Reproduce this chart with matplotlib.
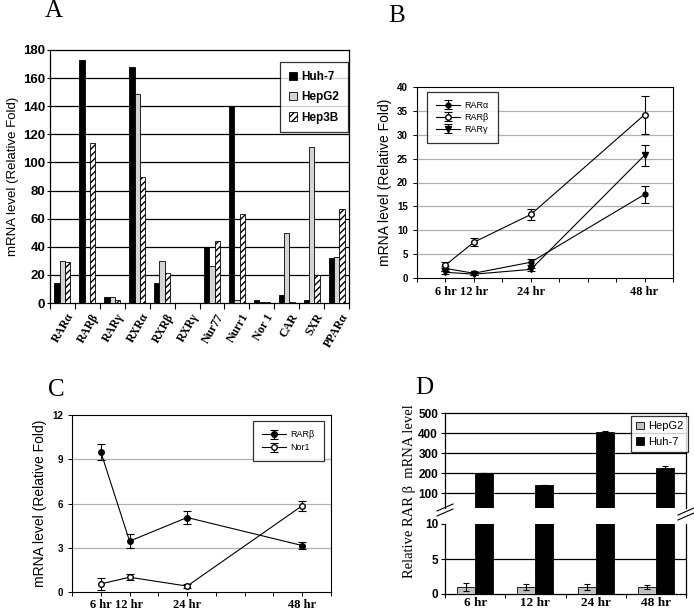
import matplotlib
matplotlib.use("Agg")
import matplotlib.pyplot as plt
import numpy as np
from matplotlib.lines import Line2D

plt.rcParams['font.family'] = ['Liberation Sans', 'DejaVu Sans']

# ---------------- Data ----------------
# Panel A
a_categories = ["RARα", "RARβ", "RARγ", "RXRα", "RXRβ", "RXRγ",
                "Nur77", "Nurr1", "Nor 1", "CAR", "SXR", "PPARα"]
a_huh7 = [14, 173, 4, 168, 14, 0, 40, 140, 2, 6, 2, 32]
a_hepg2 = [30, 0, 4.5, 149, 30, 0, 26, 2, 1, 50, 111, 33]
a_hep3b = [29, 114, 2, 90, 21, 0, 44, 63, 1, 1, 20, 67]
a_yticks = [0, 20, 40, 60, 80, 100, 120, 140, 160, 180]

# Panel B
b_hours = [6, 12, 24, 48]
b_hour_labels = ["6 hr", "12 hr", "24 hr", "48 hr"]
b_rara = [2.0, 1.0, 3.3, 17.5]
b_rara_err = [0.5, 0.3, 0.6, 1.8]
b_rarb = [2.7, 7.5, 13.3, 34.2]
b_rarb_err = [0.6, 0.8, 1.2, 4.0]
b_rarg = [1.2, 0.8, 1.8, 25.7]
b_rarg_err = [0.3, 0.2, 0.3, 2.2]

# Panel C
c_hours = [6, 12, 24, 48]
c_rarb = [9.5, 3.45, 5.05, 3.15]
c_rarb_err = [0.55, 0.45, 0.45, 0.25]
c_nor1 = [0.55, 1.0, 0.4, 5.85]
c_nor1_err = [0.4, 0.2, 0.15, 0.35]

# Panel D
d_labels = ["6 hr", "12 hr", "24 hr", "48 hr"]
d_hepg2 = [1.0, 1.0, 1.0, 1.0]
d_hepg2_err = [0.6, 0.45, 0.45, 0.3]
d_huh7 = [199, 140, 406, 224]
d_huh7_err = [0, 0, 3, 10]

W, H = 694, 611
fig = plt.figure(figsize=(W / 100, H / 100), dpi=100)


def ax_px(left, top, right, bottom):
    return fig.add_axes([left / W, 1 - bottom / H, (right - left) / W, (bottom - top) / H])


serif = 'Liberation Serif'

# ---------------- Panel A ----------------
axA = ax_px(50, 50, 349, 303)
x = np.arange(len(a_categories))
bw = 0.215
axA.bar(x - bw, a_huh7, bw, color='black', edgecolor='black', linewidth=0.6, label='Huh-7', zorder=3)
axA.bar(x, a_hepg2, bw, color='#d4d4d4', edgecolor='black', linewidth=0.6, label='HepG2', zorder=3)
axA.bar(x + bw, a_hep3b, bw, color='white', edgecolor='black', linewidth=0.6, hatch='/////',
        label='Hep3B', zorder=3)
axA.set_xlim(-0.5, len(a_categories) - 0.5)
axA.set_ylim(0, 180)
axA.set_yticks(a_yticks)
axA.set_yticklabels([str(v) for v in a_yticks], fontsize=9.5, fontweight='bold')
for v in a_yticks[1:-1]:
    axA.axhline(v, color='black', linewidth=0.9, zorder=1)
axA.set_xticks(np.arange(len(a_categories) + 1) - 0.5, minor=False)
axA.set_xticklabels([])
axA.tick_params(axis='x', length=4, direction='out')
axA.tick_params(axis='y', length=2, direction='out', pad=1.5)
for i, lab in enumerate(a_categories):
    axA.text(i + 0.15, -6, lab, rotation=60, ha='right', va='top', rotation_mode='anchor',
             fontsize=8.5, family=serif, fontweight='bold')
fig.text(13 / W, 1 - 176 / H, "mRNA level (Relative Fold)", rotation=90, fontsize=9.5,
         ha='center', va='center')
for s in axA.spines.values():
    s.set_linewidth(0.9)
legA = axA.legend(loc='upper right', bbox_to_anchor=(0.998, 0.952), frameon=True,
                  fancybox=False, edgecolor='black', handlelength=0.7, handleheight=0.7,
                  handletextpad=0.4, labelspacing=0.7, borderpad=0.75, borderaxespad=0,
                  prop={'weight': 'bold', 'size': 8.5})
legA.get_frame().set_linewidth(0.9)
fig.text(54 / W, 1 - 11 / H, "A", fontsize=18, family=serif, ha='center', va='center')

# ---------------- Panel B ----------------
axB = ax_px(417, 87, 673, 278)
ek = dict(capsize=3, elinewidth=0.8, capthick=0.8, color='black', linewidth=0.8)
axB.errorbar(b_hours, b_rara, yerr=b_rara_err, marker='o', markersize=3.5, mfc='black', mec='black',
             label='RARα', **ek)
axB.errorbar(b_hours, b_rarb, yerr=b_rarb_err, marker='o', markersize=4, mfc='white', mec='black',
             label='RARβ', **ek)
axB.errorbar(b_hours, b_rarg, yerr=b_rarg_err, marker='v', markersize=4.5, mfc='black', mec='black',
             label='RARγ', **ek)
axB.set_xlim(0, 54)
axB.set_ylim(0, 40)
axB.set_yticks(range(0, 45, 5))
axB.set_yticklabels([str(v) for v in range(0, 45, 5)], fontsize=7, fontweight='bold')
for v in range(5, 40, 5):
    axB.axhline(v, color='#b0b0b0', linewidth=0.9, zorder=0)
axB.set_xticks(range(0, 55, 6))
axB.set_xticklabels([])
axB.tick_params(axis='both', length=3, direction='out', width=0.7)
for h, lab in zip(b_hours, b_hour_labels):
    axB.text(h, -1.6, lab, ha='center', va='top', fontsize=9, family=serif, fontweight='bold')
axB.set_ylabel("mRNA level (Relative Fold)", fontsize=10, labelpad=4)
legB = axB.legend(loc='upper left', bbox_to_anchor=(0.04, 0.975), fontsize=6.5, frameon=True,
                  fancybox=False, edgecolor='black', handlelength=2.6, borderpad=1.0,
                  labelspacing=0.35, handletextpad=0.5, borderaxespad=0)
legB.get_frame().set_linewidth(0.9)
fig.text(397 / W, 1 - 16 / H, "B", fontsize=18, family=serif, ha='center', va='center')

# ---------------- Panel C ----------------
axC = ax_px(72, 415, 331, 592)
axC.errorbar(c_hours, c_rarb, yerr=c_rarb_err, marker='o', markersize=4, mfc='black', mec='black',
             label='RARβ', **ek)
axC.errorbar(c_hours, c_nor1, yerr=c_nor1_err, marker='o', markersize=4, mfc='white', mec='black',
             label='Nor1', **ek)
axC.set_xlim(0, 54)
axC.set_ylim(0, 12)
axC.set_yticks([0, 3, 6, 9, 12])
axC.set_yticklabels(["0", "3", "6", "9", "12"], fontsize=7, fontweight='bold')
for v in [3, 6, 9]:
    axC.axhline(v, color='#b0b0b0', linewidth=0.9, zorder=0)
axC.set_xticks(range(0, 55, 6))
axC.set_xticklabels([])
axC.tick_params(axis='both', length=3, direction='out', width=0.7)
for h, lab in zip(c_hours, b_hour_labels):
    axC.text(h, -0.45, lab, ha='center', va='top', fontsize=9, family=serif, fontweight='bold')
axC.set_ylabel("mRNA level (Relative Fold)", fontsize=10, labelpad=4)
legC = axC.legend(loc='upper right', bbox_to_anchor=(0.972, 0.965), fontsize=6.5, frameon=True,
                  fancybox=False, edgecolor='black', handlelength=2.6, borderpad=1.0,
                  labelspacing=0.45, handletextpad=0.5, borderaxespad=0)
legC.get_frame().set_linewidth(0.9)
fig.text(56 / W, 1 - 390 / H, "C", fontsize=18, family=serif, ha='center', va='center')

# ---------------- Panel D ----------------
axDt = ax_px(445, 413, 686, 508)
axDb = ax_px(445, 524, 686, 594)
xd = np.arange(len(d_labels))
dbw = 0.3
for axd in (axDt, axDb):
    axd.bar(xd - dbw / 2, d_hepg2, dbw, yerr=d_hepg2_err, color='#c0c0c0', edgecolor='black',
            linewidth=0.6, label='HepG2', zorder=3,
            error_kw=dict(capsize=2.5, elinewidth=0.8, capthick=0.8, ecolor='black'))
    axd.bar(xd + dbw / 2, d_huh7, dbw, yerr=d_huh7_err, color='black', edgecolor='black',
            linewidth=0.6, label='Huh-7', zorder=3,
            error_kw=dict(capsize=2.5, elinewidth=0.8, capthick=0.8, ecolor='black'))
    axd.set_xlim(-0.5, len(d_labels) - 0.5)
    for s in axd.spines.values():
        s.set_linewidth(0.9)
axDt.set_ylim(25, 500)
axDt.set_yticks([100, 200, 300, 400, 500])
axDt.set_yticklabels(["100", "200", "300", "400", "500"], fontsize=8.5, fontweight='bold')
for v in [100, 200, 300, 400]:
    axDt.axhline(v, color='black', linewidth=0.9, zorder=1)
axDt.spines['bottom'].set_visible(False)
axDt.set_xticks([])
axDt.tick_params(axis='y', length=3, direction='out', pad=2)
axDb.set_ylim(0, 10)
axDb.set_yticks([0, 5, 10])
axDb.set_yticklabels(["0", "5", "10"], fontsize=8.5, fontweight='bold')
axDb.axhline(5, color='black', linewidth=0.9, zorder=1)
axDb.spines['top'].set_visible(False)
axDb.set_xticks(np.arange(len(d_labels) + 1) - 0.5)
axDb.set_xticklabels([])
axDb.tick_params(axis='both', length=3, direction='out', pad=2)
for i, lab in enumerate(d_labels):
    axDb.text(i, -0.5, lab, ha='center', va='top', fontsize=9.5, family=serif, fontweight='bold')
legD = axDt.legend(loc='upper right', bbox_to_anchor=(1.01, 0.965), fontsize=8, frameon=True,
                   fancybox=False, edgecolor='black', handlelength=0.7, handleheight=0.7,
                   handletextpad=0.4, labelspacing=0.5, borderpad=0.45, borderaxespad=0)
legD.get_frame().set_linewidth(0.9)
legD.set_zorder(5)
# break marks
for (x0, y0) in [(437, 513), (678, 517)]:
    for dy in (0, -5):
        fig.add_artist(Line2D([x0 / W, (x0 + 16) / W], [1 - (y0 + dy + 3) / H, 1 - (y0 + dy - 4) / H],
                              color='black', linewidth=0.8))
fig.text(410 / W, 1 - 491 / H, "Relative RAR β  mRNA level", rotation=90, fontsize=10.5,
         family=serif, ha='center', va='center')
fig.text(424 / W, 1 - 388 / H, "D", fontsize=18, family=serif, ha='center', va='center')

fig.savefig("out.png", dpi=100)
